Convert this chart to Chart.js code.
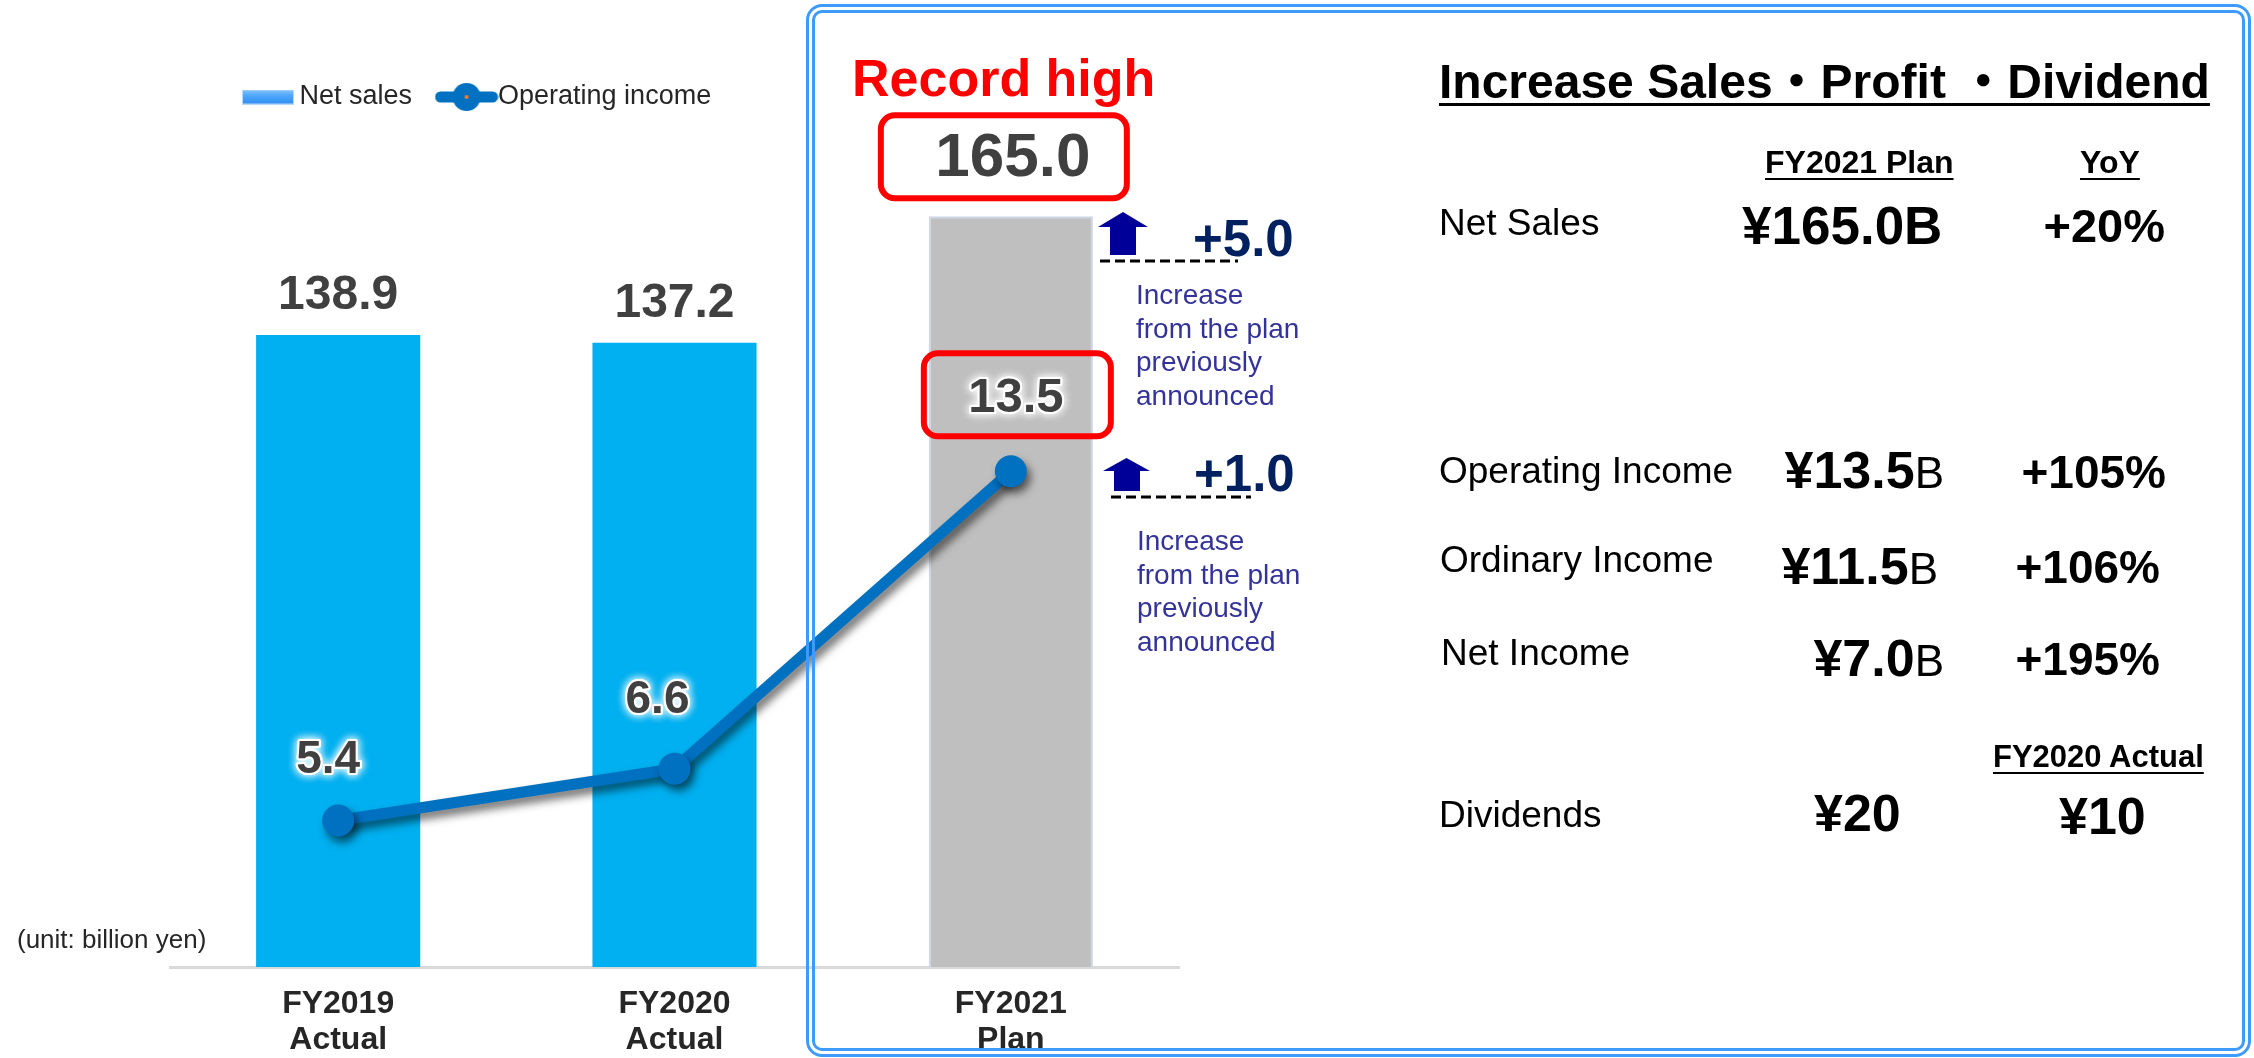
<!DOCTYPE html>
<html>
<head>
<meta charset="utf-8">
<title>FY2021 Plan</title>
<script src="https://cdn.jsdelivr.net/npm/chart.js@4.4.1/dist/chart.umd.min.js"></script>
<style>
  html, body { margin: 0; padding: 0; background: #fff; }
  body { width: 2254px; height: 1058px; position: relative; overflow: hidden;
         font-family: "Liberation Sans", Arial, "Noto Sans CJK JP", sans-serif; color: #000; }
  #c { position: absolute; left: 0; top: 0; }
  .t { position: absolute; white-space: nowrap; line-height: 60px; }
  .b { font-weight: bold; }
  .u { text-decoration: underline; text-decoration-thickness: 2px; text-underline-offset: 5px; }
  .frame { position: absolute; left: 806px; top: 4px; width: 1445px; height: 1053px; box-sizing: border-box;
           border: 9px double #3d9bff; border-radius: 16px; pointer-events: none; }
  .note { position: absolute; font-size: 28px; line-height: 33.5px; color: #333399; white-space: nowrap; }
  .delta { font-size: 51px; font-weight: bold; color: #002060; }
  svg { position: absolute; left: 0; top: 0; }
</style>
</head>
<body>
<canvas id="c" width="2254" height="1058"></canvas>

<svg width="2254" height="1058">
  <polygon points="1098,227 1123,212 1148,227" fill="#000099"/>
  <rect x="1110" y="226" width="26" height="29" fill="#000099"/>
  <line x1="1100" y1="261" x2="1238" y2="261" stroke="#000" stroke-width="3" stroke-dasharray="10 5"/>
  <polygon points="1103,471 1126.5,458 1150,471" fill="#000099"/>
  <rect x="1114" y="470" width="26" height="21" fill="#000099"/>
  <line x1="1111" y1="497" x2="1251" y2="497" stroke="#000" stroke-width="3" stroke-dasharray="10 5"/>
</svg>

<div class="t b" style="left:852px; top:48px; font-size:52px; color:#ff0000;">Record high</div>
<div class="t delta" style="left:1193px; top:209px;">+5.0</div>
<div class="t delta" style="left:1194px; top:444px;">+1.0</div>
<div class="note" style="left:1136px; top:278px;">Increase<br>from the plan<br>previously<br>announced</div>
<div class="note" style="left:1137px; top:524px;">Increase<br>from the plan<br>previously<br>announced</div>
<div class="t" style="left:17px; top:909px; font-size:26px; color:#262626;">(unit: billion yen)</div>

<div class="frame"></div>

<div class="t b" style="left:1439px; top:52px; font-size:48px; text-decoration:underline; text-decoration-thickness:3px; text-underline-offset:5px;">Increase Sales・Profit ・Dividend</div>
<div class="t b u" style="left:1765px; top:132px; font-size:32px;">FY2021 Plan</div>
<div class="t b u" style="left:2080px; top:132px; font-size:32px;">YoY</div>

<div class="t" style="left:1439px; top:193px; font-size:37px;">Net Sales</div>
<div class="t b" style="left:1742px; top:196px; font-size:53px;">¥165.0B</div>
<div class="t b" style="right:89px; top:196px; font-size:47px;">+20%</div>

<div class="t" style="left:1439px; top:441px; font-size:37px;">Operating Income</div>
<div class="t b" style="right:310px; top:440px; font-size:52px;">¥13.5<span style="font-weight:normal; font-size:44px;">B</span></div>
<div class="t b" style="right:88px; top:442px; font-size:46px;">+105%</div>

<div class="t" style="left:1440px; top:530px; font-size:37px;">Ordinary Income</div>
<div class="t b" style="right:316px; top:536px; font-size:52px;">¥11.5<span style="font-weight:normal; font-size:44px;">B</span></div>
<div class="t b" style="right:94px; top:537px; font-size:46px;">+106%</div>

<div class="t" style="left:1441px; top:623px; font-size:37px;">Net Income</div>
<div class="t b" style="right:310px; top:628px; font-size:52px;">¥7.0<span style="font-weight:normal; font-size:44px;">B</span></div>
<div class="t b" style="right:94px; top:629px; font-size:46px;">+195%</div>

<div class="t b u" style="left:1993px; top:727px; font-size:31px;">FY2020 Actual</div>
<div class="t" style="left:1439px; top:785px; font-size:37px;">Dividends</div>
<div class="t b" style="left:1814px; top:783px; font-size:52px;">¥20</div>
<div class="t b" style="left:2059px; top:786px; font-size:52px;">¥10</div>

<script>
// chart values
const categories = [["FY2019", "Actual"], ["FY2020", "Actual"], ["FY2021", "Plan"]];
const netSales = [138.9, 137.2, 165.0];
const operatingIncome = [5.4, 6.6, 13.5];
const barColors = ["#00b0f0", "#00b0f0", "#bfbfbf"];

const planIndex = categories.length - 1;
const FONT = '"Liberation Sans", Arial, sans-serif';

// label offsets from the line points (x, y)
const incomeLabelOffsets = [[-10, -60], [-17, -68], [5, -73]];

Chart.defaults.font.family = FONT;

// legend icons
function makeSalesIcon() {
  const c = document.createElement("canvas");
  c.width = 52; c.height = 15;
  const g = c.getContext("2d");
  const grad = g.createLinearGradient(0, 0, 0, 15);
  grad.addColorStop(0, "#8cc6ff");
  grad.addColorStop(0.4, "#4ea7ff");
  grad.addColorStop(1, "#2f8cf0");
  g.fillStyle = grad;
  g.fillRect(1, 1, 50, 13);
  g.strokeStyle = "#b9d8f7";
  g.lineWidth = 1;
  g.strokeRect(0.5, 0.5, 51, 14);
  return c;
}
function makeIncomeIcon() {
  const c = document.createElement("canvas");
  c.width = 64; c.height = 30;
  const g = c.getContext("2d");
  g.strokeStyle = "#0070c0";
  g.lineWidth = 11;
  g.lineCap = "round";
  g.beginPath(); g.moveTo(6, 15); g.lineTo(58, 15); g.stroke();
  g.fillStyle = "#0070c0";
  g.beginPath(); g.arc(32, 15, 14, 0, Math.PI * 2); g.fill();
  g.fillStyle = "#ed7d31";
  g.beginPath(); g.arc(32, 15, 2, 0, Math.PI * 2); g.fill();
  return c;
}
const legendIcons = [makeSalesIcon(), makeIncomeIcon()];

// move the legend box to its spot above the left bars
const legendPlace = {
  id: "legendPlace",
  afterLayout(chart) {
    const lg = chart.legend;
    const pad = lg.options.labels.padding;
    const dx = 250 - pad - lg.left;
    const dy = 83.5 - pad - lg.top;
    lg.left += dx; lg.right += dx;
    lg.top += dy; lg.bottom += dy;
  }
};

// drop shadow on the line
const lineShadow = {
  id: "lineShadow",
  beforeDatasetDraw(chart, args) {
    if (args.index !== 1) return;
    const ctx = chart.ctx;
    ctx.save();
    ctx.shadowColor = "rgba(0,0,0,0.55)";
    ctx.shadowBlur = 9;
    ctx.shadowOffsetX = 4;
    ctx.shadowOffsetY = 6;
  },
  afterDatasetDraw(chart, args) {
    if (args.index === 1) chart.ctx.restore();
  }
};

function glowText(ctx, txt, x, y) {
  ctx.save();
  ctx.shadowColor = "#ffffff";
  ctx.shadowBlur = 8;
  ctx.lineWidth = 4;
  ctx.lineJoin = "round";
  ctx.strokeStyle = "rgba(255,255,255,0.95)";
  ctx.strokeText(txt, x, y);
  ctx.strokeText(txt, x, y);
  ctx.restore();
  ctx.fillStyle = "#404040";
  ctx.fillText(txt, x, y);
}

const valueLabels = {
  id: "valueLabels",
  afterDatasetsDraw(chart) {
    const ctx = chart.ctx;
    const bars = chart.getDatasetMeta(0).data;
    const pts = chart.getDatasetMeta(1).data;
    ctx.save();
    ctx.textAlign = "center";
    ctx.textBaseline = "middle";

    bars.forEach((bar, i) => {
      const txt = netSales[i].toFixed(1);
      if (i === planIndex) {
        ctx.lineWidth = 6;
        ctx.strokeStyle = "#ff0000";
        ctx.beginPath();
        ctx.roundRect(bar.x - 130, bar.y - 101, 246, 83, 14);
        ctx.stroke();
        ctx.font = "bold 62px " + FONT;
        ctx.fillStyle = "#404040";
        ctx.fillText(txt, bar.x + 2, bar.y - 57);
      } else {
        ctx.font = "bold 48px " + FONT;
        ctx.fillStyle = "#404040";
        ctx.fillText(txt, bar.x, bar.y - 39);
      }
    });

    pts.forEach((pt, i) => {
      const txt = operatingIncome[i].toFixed(1);
      const [ox, oy] = incomeLabelOffsets[i];
      if (i === planIndex) {
        ctx.lineWidth = 6;
        ctx.strokeStyle = "#ff0000";
        ctx.beginPath();
        ctx.roundRect(pt.x - 87, pt.y - 118, 187, 83, 14);
        ctx.stroke();
        ctx.font = "bold 49px " + FONT;
      } else {
        ctx.font = "bold 46px " + FONT;
      }
      glowText(ctx, txt, pt.x + ox, pt.y + oy);
    });
    ctx.restore();
  }
};

new Chart(document.getElementById("c"), {
  type: "bar",
  data: {
    labels: categories,
    datasets: [
      {
        type: "bar",
        label: "Net sales",
        data: netSales,
        yAxisID: "y",
        backgroundColor: barColors,
        borderColor: "#cdd6e6",
        borderWidth: [0, 0, 2],
        categoryPercentage: 1,
        barPercentage: 0.488,
        order: 1
      },
      {
        type: "line",
        label: "Operating income",
        data: operatingIncome,
        yAxisID: "y2",
        borderColor: "#0070c0",
        borderWidth: 11,
        pointRadius: 16,
        pointHoverRadius: 16,
        pointBackgroundColor: "#0070c0",
        pointBorderWidth: 0,
        tension: 0,
        order: 0
      }
    ]
  },
  options: {
    responsive: false,
    animation: false,
    devicePixelRatio: 1,
    layout: { padding: { left: 170, right: 1075, top: 74.5, bottom: 0 } },
    scales: {
      x: {
        grid: { display: false, drawTicks: false },
        border: { display: true, color: "#d9d9d9", width: 3 },
        ticks: {
          padding: 19,
          color: "#262626",
          font: { size: 32, weight: "bold", lineHeight: 1.125 }
        },
        afterFit: (scale) => { scale.height = 91; }
      },
      y: { display: false, min: 0, max: 180 },
      y2: { display: false, min: 2, max: 21 }
    },
    plugins: {
      tooltip: { enabled: false },
      legend: {
        position: "top",
        align: "start",
        labels: {
          usePointStyle: true,
          pointStyleWidth: 36,
          padding: 36.5,
          color: "#262626",
          font: { size: 27 },
          generateLabels: (chart) => chart.data.datasets.map((ds, i) => ({
            text: ds.label,
            pointStyle: legendIcons[i],
            fillStyle: "transparent",
            strokeStyle: "transparent",
            lineWidth: 0,
            hidden: false,
            fontColor: "#262626",
            datasetIndex: i
          }))
        }
      }
    }
  },
  plugins: [legendPlace, lineShadow, valueLabels]
});
</script>
</body>
</html>
